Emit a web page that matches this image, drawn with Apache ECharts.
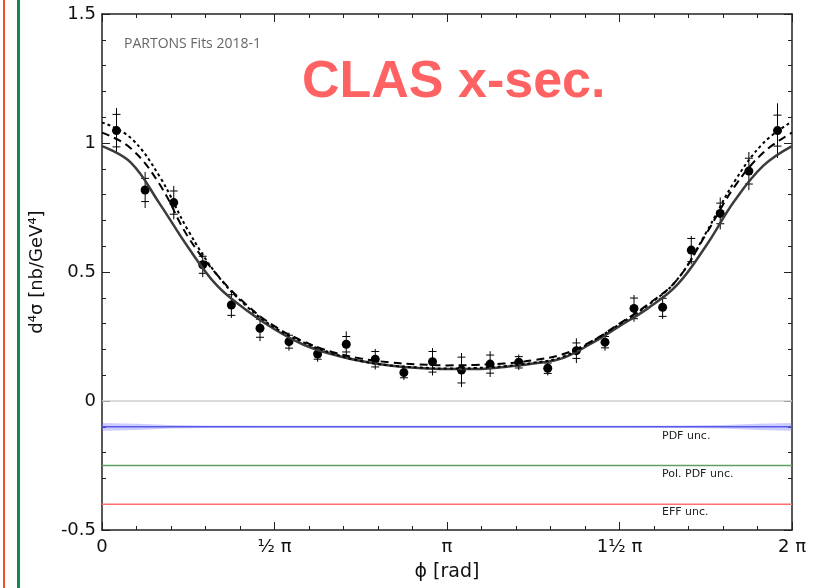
<!DOCTYPE html>
<html>
<head>
<meta charset="utf-8">
<script src="https://cdn.jsdelivr.net/npm/echarts@6/dist/echarts.min.js"></script>
<style>
html, body { margin: 0; padding: 0; background: #fff; }
#chart { width: 814px; height: 588px; }
</style>
</head>
<body>
<div id="chart"></div>
<script>
// phi in units of pi
const pointPhi = [0.042, 0.125, 0.208, 0.292, 0.375, 0.458, 0.542, 0.625, 0.708, 0.792, 0.875, 0.958,
    1.042, 1.125, 1.208, 1.292, 1.375, 1.458, 1.542, 1.625, 1.708, 1.792, 1.875, 1.958];
const pointVal = [1.048, 0.818, 0.769, 0.528, 0.372, 0.282, 0.230, 0.182, 0.220, 0.162, 0.110, 0.152,
    0.120, 0.143, 0.150, 0.127, 0.195, 0.228, 0.359, 0.363, 0.585, 0.727, 0.891, 1.048];
const pointStat = [0.063, 0.045, 0.045, 0.033, 0.040, 0.035, 0.025, 0.020, 0.030, 0.030, 0.020, 0.040,
    0.050, 0.035, 0.022, 0.020, 0.030, 0.022, 0.040, 0.035, 0.045, 0.040, 0.050, 0.060];
const pointTot = [0.088, 0.070, 0.065, 0.048, 0.050, 0.050, 0.035, 0.030, 0.050, 0.040, 0.028, 0.053,
    0.066, 0.050, 0.030, 0.028, 0.048, 0.033, 0.052, 0.045, 0.055, 0.062, 0.074, 0.106];

const curvePhi = [0, 0.083, 0.167, 0.25, 0.333, 0.417, 0.5, 0.583, 0.667, 0.75, 0.833, 0.917, 1,
    1.083, 1.167, 1.25, 1.333, 1.417, 1.5, 1.583, 1.667, 1.75, 1.833, 1.917, 2];
const fitSolid = [0.988, 0.925, 0.765, 0.595, 0.448, 0.354, 0.278, 0.219, 0.181, 0.155, 0.138, 0.128, 0.124,
    0.124, 0.132, 0.145, 0.165, 0.222, 0.290, 0.360, 0.450, 0.600, 0.775, 0.912, 0.988];
const fitDashed = [1.040, 0.980, 0.840, 0.635, 0.490, 0.375, 0.290, 0.232, 0.190, 0.165, 0.150, 0.142, 0.138,
    0.140, 0.145, 0.158, 0.180, 0.230, 0.300, 0.375, 0.470, 0.645, 0.830, 0.963, 1.040];
const fitDotted = [1.080, 1.020, 0.870, 0.660, 0.490, 0.370, 0.285, 0.228, 0.185, 0.155, 0.138, 0.130, 0.126,
    0.128, 0.135, 0.148, 0.170, 0.228, 0.298, 0.372, 0.470, 0.650, 0.850, 1.000, 1.083];

// uncertainty strips
const pdfUnc = -0.1;
const polPdfUnc = -0.25;
const effUnc = -0.4;
const bandPhi = [0, 0.1, 0.2, 0.3, 0.5, 1.0, 1.5, 1.7, 1.8, 1.9, 2];
const bandHalf = [0.015, 0.012, 0.007, 0.005, 0.004, 0.004, 0.004, 0.005, 0.007, 0.012, 0.015];

const xTickLabels = { 0: '0', 0.5: '½ π', 1: 'π', 1.5: '1½ π', 2: '2 π' };

function pairs(xs, ys) {
    return xs.map((x, i) => [x, ys[i]]);
}

const chart = echarts.init(document.getElementById('chart'));

const axisLine = { show: true, onZero: false, lineStyle: { color: '#222', width: 1.5 } };
const axisTick = { show: true, inside: true, length: 8, lineStyle: { color: '#222', width: 1 } };
const minorTick = { show: true, splitNumber: 5, length: 4, lineStyle: { color: '#222', width: 1 } };

let option = {
    animation: false,
    backgroundColor: '#fff',
    grid: { left: 102, right: 22, top: 14, bottom: 58 },
    xAxis: [
        {
            type: 'value', min: 0, max: 2, interval: 0.5, position: 'bottom',
            axisLine: axisLine, axisTick: axisTick, minorTick: minorTick,
            splitLine: { show: false },
            axisLabel: {
                fontFamily: 'DejaVu Sans', fontSize: 18, color: '#111', margin: 8,
                formatter: v => xTickLabels[v] !== undefined ? xTickLabels[v] : '',
            },
            name: 'ϕ [rad]', nameLocation: 'middle', nameGap: 33,
            nameTextStyle: { fontFamily: 'DejaVu Sans', fontSize: 19, color: '#111' },
        },
        {
            type: 'value', min: 0, max: 2, interval: 0.5, position: 'top',
            axisLine: axisLine, axisTick: axisTick, minorTick: minorTick,
            splitLine: { show: false }, axisLabel: { show: false },
        },
    ],
    yAxis: [
        {
            type: 'value', min: -0.5, max: 1.5, interval: 0.5, position: 'left',
            axisLine: axisLine, axisTick: axisTick, minorTick: minorTick,
            splitLine: { show: false },
            axisLabel: { fontFamily: 'DejaVu Sans', fontSize: 18, color: '#111', margin: 6 },
            name: 'd⁴σ [nb/GeV⁴]', nameLocation: 'middle', nameGap: 56,
            nameTextStyle: { fontFamily: 'DejaVu Sans', fontSize: 18, color: '#111' },
        },
        {
            type: 'value', min: -0.5, max: 1.5, interval: 0.5, position: 'right',
            axisLine: axisLine, axisTick: axisTick, minorTick: minorTick,
            splitLine: { show: false }, axisLabel: { show: false },
        },
    ],
    graphic: [
        { type: 'rect', shape: { x: 3, y: 0, width: 2, height: 588 }, style: { fill: '#f4502c' } },
        { type: 'rect', shape: { x: 17, y: 0, width: 3, height: 588 }, style: { fill: '#11894e' } },
        {
            type: 'text', x: 302, y: 83,
            style: { text: 'CLAS x-sec.', font: 'bold 52px "Liberation Sans"', fill: '#ff6262', verticalAlign: 'middle' },
        },
        {
            type: 'text', x: 124, y: 44,
            style: { text: 'PARTONS Fits 2018-1', font: '14px "Open Sans"', fill: '#666', verticalAlign: 'middle' },
        },
        {
            type: 'text', x: 662, y: 436,
            style: { text: 'PDF unc.', font: '11px "DejaVu Sans"', fill: '#222', verticalAlign: 'middle' },
        },
        {
            type: 'text', x: 662, y: 474,
            style: { text: 'Pol. PDF unc.', font: '11px "DejaVu Sans"', fill: '#222', verticalAlign: 'middle' },
        },
        {
            type: 'text', x: 662, y: 512,
            style: { text: 'EFF unc.', font: '11px "DejaVu Sans"', fill: '#222', verticalAlign: 'middle' },
        },
    ],
    series: [
        {
            // zero line
            type: 'line', data: [[0, 0], [2, 0]], symbol: 'none',
            lineStyle: { color: '#cfcfcf', width: 1.5 }, silent: true,
        },
        {
            // PDF band
            type: 'custom', data: [0], silent: true,
            renderItem(params, api) {
                const upper = bandPhi.map((x, i) => api.coord([x, pdfUnc + bandHalf[i]]));
                const lower = bandPhi.map((x, i) => api.coord([x, pdfUnc - bandHalf[i]])).reverse();
                return { type: 'polygon', shape: { points: upper.concat(lower) }, style: { fill: 'rgba(110,110,255,0.35)' } };
            },
        },
        {
            type: 'line', data: [[0, pdfUnc], [2, pdfUnc]], symbol: 'none',
            lineStyle: { color: '#5a5ae8', width: 1.5 }, silent: true,
        },
        {
            type: 'line', data: [[0, polPdfUnc], [2, polPdfUnc]], symbol: 'none',
            lineStyle: { color: '#5f9f5f', width: 1.5 }, silent: true,
        },
        {
            type: 'line', data: [[0, effUnc], [2, effUnc]], symbol: 'none',
            lineStyle: { color: '#ff6f6f', width: 1.5 }, silent: true,
        },
        {
            type: 'line', data: pairs(curvePhi, fitSolid), symbol: 'none', smooth: 0.4,
            lineStyle: { color: '#3c3c3c', width: 2.5 },
        },
        {
            type: 'line', data: pairs(curvePhi, fitDashed), symbol: 'none', smooth: 0.4,
            lineStyle: { color: '#000', width: 2, type: [8, 5] },
        },
        {
            type: 'line', data: pairs(curvePhi, fitDotted), symbol: 'none', smooth: 0.4,
            lineStyle: { color: '#000', width: 2, type: [3, 3] },
        },
        {
            // error bars: line to total error, caps at stat error
            type: 'custom',
            data: pointPhi.map((x, i) => [x, pointVal[i], pointStat[i], pointTot[i]]),
            renderItem(params, api) {
                const x = api.value(0), y = api.value(1), s = api.value(2), t = api.value(3);
                const hi = api.coord([x, y + t]);
                const lo = api.coord([x, y - t]);
                const c1 = api.coord([x, y + s]);
                const c2 = api.coord([x, y - s]);
                const st = { stroke: '#000', lineWidth: 1 };
                return {
                    type: 'group',
                    children: [
                        { type: 'line', shape: { x1: hi[0], y1: hi[1], x2: lo[0], y2: lo[1] }, style: st },
                        { type: 'line', shape: { x1: c1[0] - 4, y1: c1[1], x2: c1[0] + 4, y2: c1[1] }, style: st },
                        { type: 'line', shape: { x1: c2[0] - 4, y1: c2[1], x2: c2[0] + 4, y2: c2[1] }, style: st },
                    ],
                };
            },
        },
        {
            type: 'scatter', data: pairs(pointPhi, pointVal), symbol: 'circle', symbolSize: 9,
            itemStyle: { color: '#000', opacity: 1 },
        },
    ],
};

chart.setOption(option);
</script>
</body>
</html>
